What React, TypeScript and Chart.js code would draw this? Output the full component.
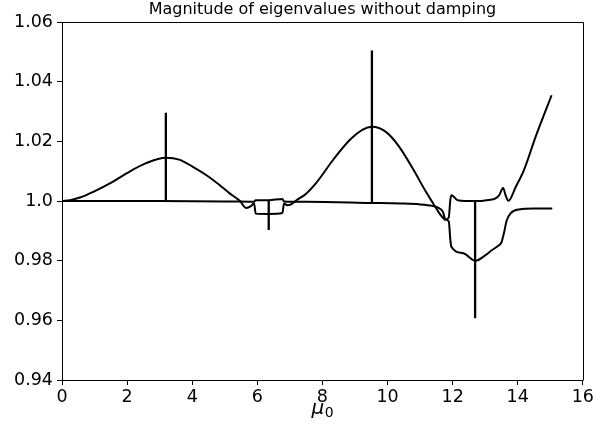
import React, { useEffect, useRef } from "react";
import { Chart, registerables } from "chart.js";
Chart.register(...registerables);

const titleText = "Magnitude of eigenvalues without damping";
const xLabelMain = "μ";
const xLabelSub = "0";
const xTicks = [0, 2, 4, 6, 8, 10, 12, 14, 16];
const yTicks = [0.94, 0.96, 0.98, 1.0, 1.02, 1.04, 1.06];
const yTickLabels = ["0.94", "0.96", "0.98", "1.0", "1.02", "1.04", "1.06"];

// eigenvalue branch 1 (bumps, lower edge of mid box, upper edge of right box)
const upperX = [0, 0.25, 0.55, 0.96, 1.5, 1.98, 2.6, 3.19, 3.6, 4.02, 4.45, 4.84, 5.15, 5.46, 5.66, 5.8, 5.9, 5.95, 6.35, 6.77, 6.82, 6.92, 7.05, 7.2, 7.5, 7.81, 8.32, 8.83, 9.24, 9.52, 9.95, 10.36, 10.77, 11.18, 11.43, 11.62, 11.78, 11.88, 11.93, 11.97, 12.15, 12.71, 13.1, 13.32, 13.43, 13.55, 13.63, 13.71, 13.94, 14.19, 14.55, 15.04];
const upperY = [1.0, 1.0003, 1.0012, 1.0031, 1.0061, 1.0093, 1.0128, 1.0145, 1.0139, 1.0115, 1.0086, 1.0054, 1.0026, 1.0001, 0.9977, 0.9983, 0.9993, 0.9958, 0.9957, 0.996, 0.9992, 0.9986, 0.999, 1.0003, 1.0025, 1.0061, 1.0137, 1.0204, 1.024, 1.0249, 1.0232, 1.0182, 1.011, 1.0031, 0.9987, 0.9955, 0.9938, 0.9945, 1.0005, 1.002, 1.0003, 1.0, 1.0004, 1.0009, 1.002, 1.0044, 1.0018, 1.0001, 1.0048, 1.0104, 1.0216, 1.0355];

// eigenvalue branch 2 (near-flat, upper edge of mid box, lower edge of right box)
const lowerX = [0, 3, 5.0, 5.9, 5.95, 6.35, 6.77, 6.82, 7.5, 9.5, 10.4, 11.0, 11.37, 11.55, 11.7, 11.78, 11.88, 11.93, 11.96, 12.33, 12.7, 13.0, 13.2, 13.37, 13.5, 13.58, 13.66, 13.78, 14.04, 14.5, 15.06];
const lowerY = [1.0, 1.0, 0.9999, 0.9998, 1.0003, 1.0003, 1.0007, 0.9999, 0.9998, 0.9994, 0.9992, 0.9989, 0.9984, 0.9978, 0.9964, 0.9938, 0.9932, 0.987, 0.9847, 0.9825, 0.98, 0.9818, 0.9835, 0.9848, 0.9862, 0.9895, 0.9935, 0.9959, 0.9972, 0.9975, 0.9975];

// resonance spikes
const spikeX = [3.19, 6.35, 9.52, 12.69];
const spikeLow = [1.0, 0.9903, 0.9993, 0.9607];
const spikeHigh = [1.0296, 1.0003, 1.0505, 1.0];

const FONT = "'DejaVu Sans', sans-serif";

export default function App() {
  const ref = useRef<HTMLCanvasElement | null>(null);
  useEffect(() => {
    document.body.style.margin = "0";
    const canvas = ref.current;
    if (!canvas) return;
    const toPts = (xs: number[], ys: number[]) => xs.map((x, i) => ({ x, y: ys[i] }));
    const curveStyle = {
      showLine: true,
      borderColor: "#000",
      borderWidth: 2,
      pointRadius: 0,
      fill: false,
      cubicInterpolationMode: "monotone" as const,
    };
    const datasets: any[] = [
      { ...curveStyle, data: toPts(upperX, upperY) },
      { ...curveStyle, data: toPts(lowerX, lowerY) },
      ...spikeX.map((x, i) => ({
        showLine: true,
        borderColor: "#000",
        borderWidth: 2.3,
        pointRadius: 0,
        tension: 0,
        data: [{ x, y: spikeLow[i] }, { x, y: spikeHigh[i] }],
      })),
    ];
    const frame = {
      id: "frame",
      afterDraw(chart: any) {
        const { ctx, chartArea: a } = chart;
        ctx.save();
        ctx.strokeStyle = "#000";
        ctx.lineWidth = 1;
        ctx.beginPath();
        ctx.moveTo(Math.round(a.left) + 0.5, Math.round(a.top) + 0.5);
        ctx.lineTo(Math.round(a.right) + 0.5, Math.round(a.top) + 0.5);
        ctx.lineTo(Math.round(a.right) + 0.5, Math.round(a.bottom) + 0.5);
        ctx.stroke();
        // x-axis label: italic mu with subscript 0
        const cx = (a.left + a.right) / 2;
        ctx.fillStyle = "#000";
        ctx.textBaseline = "alphabetic";
        ctx.font = `italic 20px ${FONT}`;
        const wMain = ctx.measureText(xLabelMain).width;
        ctx.font = `14px ${FONT}`;
        const wSub = ctx.measureText(xLabelSub).width;
        const x0 = cx - (wMain + wSub) / 2;
        ctx.font = `italic 20px ${FONT}`;
        ctx.textAlign = "left";
        ctx.fillText(xLabelMain, x0, 414);
        ctx.font = `14px ${FONT}`;
        ctx.fillText(xLabelSub, x0 + wMain + 0.5, 417);
        ctx.restore();
      },
    };
    const chart = new Chart(canvas, {
      type: "scatter",
      data: { datasets },
      plugins: [frame],
      options: {
        animation: false,
        responsive: false,
        layout: { padding: { left: 0, right: 12, top: 0, bottom: 0 } },
        plugins: {
          legend: { display: false },
          tooltip: { enabled: false },
          title: {
            display: true,
            text: titleText,
            fullSize: false,
            color: "#000",
            font: { family: FONT, size: 16, weight: "normal" },
            padding: { top: 0, bottom: 3 },
          },
        },
        scales: {
          x: {
            type: "linear",
            min: 0,
            max: 16,
            afterFit: (s: any) => { s.height = 60; },
            afterBuildTicks: (s: any) => { s.ticks = xTicks.map((v) => ({ value: v })); },
            grid: { drawOnChartArea: false, drawTicks: true, tickLength: 5, color: "#000", lineWidth: 1 },
            border: { display: true, color: "#000", width: 1 },
            ticks: {
              color: "#000",
              padding: 2,
              maxRotation: 0,
              font: { family: FONT, size: 17.5 },
              callback: (v: any) => String(v),
            },
          },
          y: {
            type: "linear",
            min: 0.94,
            max: 1.06,
            afterFit: (s: any) => { s.width = 62; },
            afterBuildTicks: (s: any) => { s.ticks = yTicks.map((v) => ({ value: v })); },
            grid: { drawOnChartArea: false, drawTicks: true, tickLength: 5, color: "#000", lineWidth: 1 },
            border: { display: true, color: "#000", width: 1 },
            ticks: {
              color: "#000",
              padding: 4,
              font: { family: FONT, size: 17.5 },
              callback: (_v: any, i: number) => yTickLabels[i],
            },
          },
        },
      },
    });
    return () => chart.destroy();
  }, []);
  return (
    <div style={{ position: "absolute", left: 0, top: 0, width: 596, height: 440 }}>
      <canvas ref={ref} width={596} height={440} />
    </div>
  );
}
